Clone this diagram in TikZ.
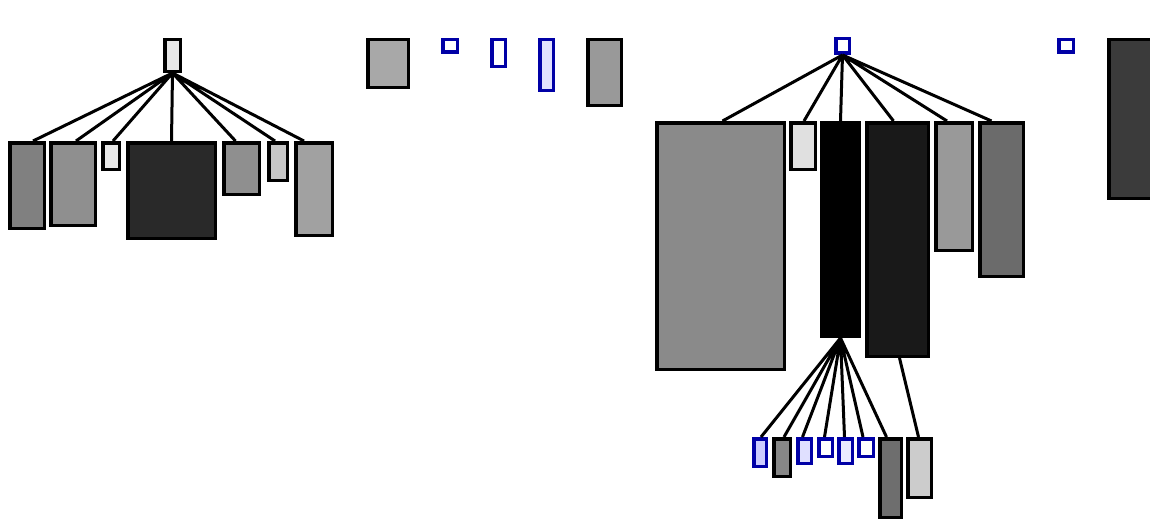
\documentclass[tikz,border=0pt]{standalone}
\usepackage{tikz}

\begin{document}
\begin{tikzpicture}[x=1pt,y=-1pt,
  box/.style = {draw,line width=3.5pt,inner sep=0pt},
  leaf/.style = {draw=blue!65!black,line width=3.5pt,inner sep=0pt,fill=white},
  edge/.style = {line width=3pt}]
   \clip (0,0) rectangle (1150,519);
   % left tree
   \node[box,fill=black!9,minimum width=15.5,minimum height=31.5] (rl) at (172.5,55.5) {};
   \node[box,fill=black!50,minimum width=34.5,minimum height=85.5] (c1) at (27,185.5) {};
   \node[box,fill=black!44,minimum width=44.5,minimum height=82.5] (c2) at (73,184) {};
   \node[box,fill=black!9,minimum width=16.5,minimum height=26.5] (c3) at (111,156) {};
   \node[box,fill=black!84,minimum width=87.5,minimum height=95.5] (c4) at (171.5,190.5) {};
   \node[box,fill=black!44,minimum width=35.5,minimum height=51.5] (c5) at (241.5,168.5) {};
   \node[box,fill=black!22,minimum width=18.5,minimum height=37.5] (c6) at (278,161.5) {};
   \node[box,fill=black!37,minimum width=36.5,minimum height=92.5] (c7) at (314,189) {};
   \draw[edge] (rl.south) -- ([xshift=6]c1.north)  (rl.south) -- ([xshift=3]c2.north)
               (rl.south) -- ([xshift=2]c3.north)  (rl.south) -- (c4.north)
               (rl.south) -- ([xshift=-6]c5.north) (rl.south) -- ([xshift=-3]c6.north)
               (rl.south) -- ([xshift=-10]c7.north);
   % loose boxes on top
   \node[box,fill=black!34,minimum width=40.5,minimum height=47.5] (s1) at (388,63.5) {};
   \node[leaf,minimum width=14.5,minimum height=12.5] (b1) at (450,46) {};
   \node[leaf,minimum width=13.5,minimum height=26.5] (b2) at (498.5,53) {};
   \node[leaf,fill=blue!12,minimum width=13.5,minimum height=50.5] (b3) at (546.5,65) {};
   \node[box,fill=black!40,minimum width=33.5,minimum height=65.5] (s2) at (604.5,72.5) {};
   % right tree
   \node[leaf,minimum width=13.5,minimum height=14.5] (rr) at (842.5,46) {};
   \node[box,fill=black!46,minimum width=127.5,minimum height=246.5] (r1) at (720.5,246) {};
   \node[box,fill=black!12,minimum width=24.5,minimum height=46.5] (r2) at (803,146) {};
   \node[box,fill=black,minimum width=37.5,minimum height=213.5] (r3) at (840.5,229.5) {};
   \node[box,fill=black!90,minimum width=61.5,minimum height=233.5] (r4) at (897.5,239.5) {};
   \node[box,fill=black!40,minimum width=36.5,minimum height=127.5] (r5) at (954,186.5) {};
   \node[box,fill=black!58,minimum width=43.5,minimum height=153.5] (r6) at (1001.5,199.5) {};
   \draw[edge] (rr.south) -- ([xshift=2]r1.north)  (rr.south) -- ([xshift=1]r2.north)
               (rr.south) -- (r3.north)            (rr.south) -- ([xshift=-4]r4.north)
               (rr.south) -- ([xshift=-7]r5.north) (rr.south) -- ([xshift=-10]r6.north);
   % leaves below the black column
   \node[leaf,fill=blue!20,minimum width=12.5,minimum height=27.5] (l1) at (760,452.5) {};
   \node[box,fill=black!47,minimum width=16.5,minimum height=37.5] (l2) at (782,457.5) {};
   \node[leaf,fill=blue!12,minimum width=13.5,minimum height=24.5] (l3) at (804.5,451) {};
   \node[leaf,minimum width=13.5,minimum height=17.5] (l4) at (825.5,447.5) {};
   \node[leaf,fill=blue!8,minimum width=13.5,minimum height=24.5] (l5) at (845.5,451) {};
   \node[leaf,minimum width=14.5,minimum height=17.5] (l6) at (866,447.5) {};
   \node[box,fill=black!57,minimum width=21.5,minimum height=78.5] (l7) at (890.5,478) {};
   \node[box,fill=black!20,minimum width=23.5,minimum height=58.5] (l8) at (919.5,468) {};
   \draw[edge] (r3.south) -- ([xshift=1]l1.north)  (r3.south) -- ([xshift=2]l2.north)
               (r3.south) -- ([xshift=-2]l3.north) (r3.south) -- ([xshift=-1]l4.north)
               (r3.south) -- ([xshift=-1]l5.north) (r3.south) -- ([xshift=-3]l6.north)
               (r3.south) -- ([xshift=-4]l7.north)
               ([xshift=2]r4.south) -- ([xshift=-1]l8.north);
   % far right
   \node[leaf,minimum width=14.5,minimum height=12.5] (b4) at (1066,46) {};
   \node[box,fill=black!77,minimum width=59.5,minimum height=158.5] (s3) at (1138.5,119) {};
\end{tikzpicture}
\end{document}
